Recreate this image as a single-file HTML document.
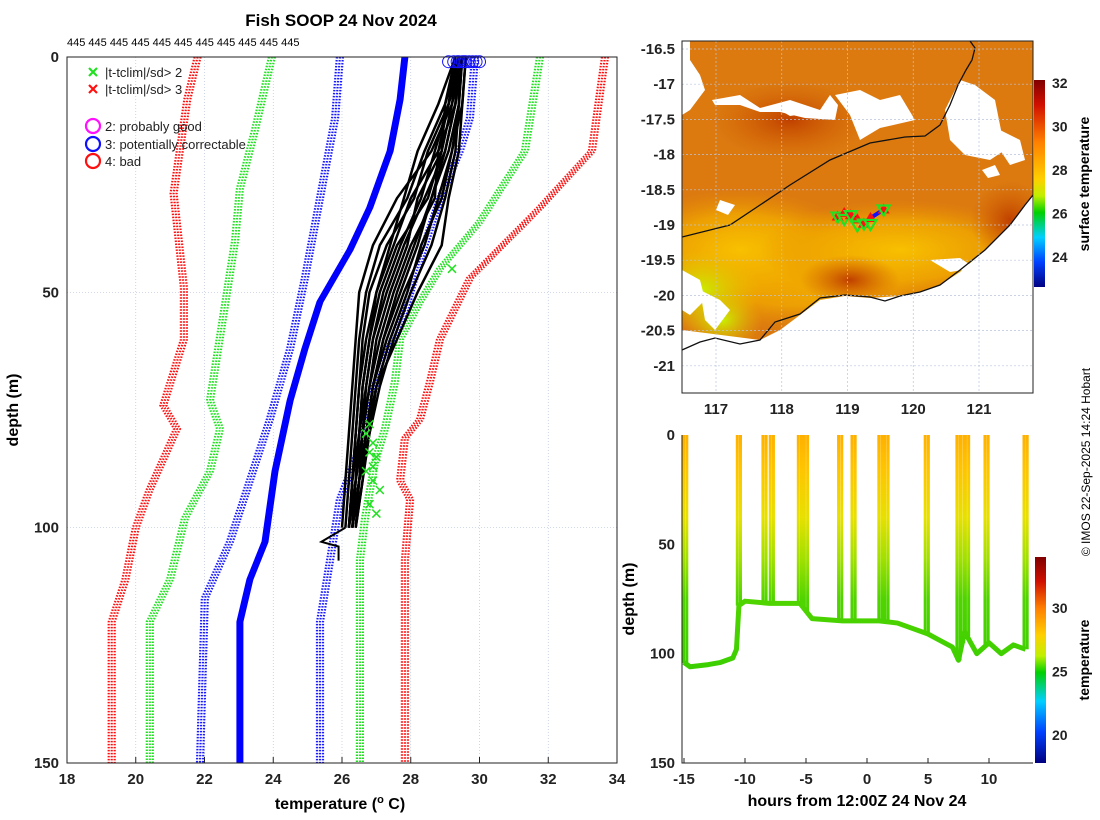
<!DOCTYPE html>
<html><head><meta charset="utf-8"><style>
body{margin:0;background:#fff}
svg{display:block;font-family:"Liberation Sans","DejaVu Sans",sans-serif}
</style></head><body>
<svg id="s" width="1100" height="820" viewBox="0 0 1100 820" xmlns="http://www.w3.org/2000/svg">
<defs>
<linearGradient id="cb1" x1="0" y1="0" x2="0" y2="1">
<stop offset="0" stop-color="#800000"/><stop offset="0.12" stop-color="#d01000"/><stop offset="0.3" stop-color="#ff8000"/><stop offset="0.48" stop-color="#ffd000"/><stop offset="0.56" stop-color="#c0f000"/><stop offset="0.64" stop-color="#00d000"/><stop offset="0.76" stop-color="#00d0ff"/><stop offset="0.88" stop-color="#0040ff"/><stop offset="1" stop-color="#000080"/></linearGradient>
<linearGradient id="cb2" x1="0" y1="0" x2="0" y2="1">
<stop offset="0" stop-color="#800000"/><stop offset="0.12" stop-color="#d01000"/><stop offset="0.25" stop-color="#ff8000"/><stop offset="0.38" stop-color="#ffd000"/><stop offset="0.48" stop-color="#c0f000"/><stop offset="0.56" stop-color="#00d000"/><stop offset="0.7" stop-color="#00d0ff"/><stop offset="0.85" stop-color="#0040ff"/><stop offset="1" stop-color="#000080"/></linearGradient>
<linearGradient id="dg" gradientUnits="userSpaceOnUse" x1="0" y1="435" x2="0" y2="763">
<stop offset="0" stop-color="#ffb000"/><stop offset="0.1" stop-color="#ffc400"/><stop offset="0.25" stop-color="#e8e000"/><stop offset="0.38" stop-color="#a0e000"/><stop offset="0.5" stop-color="#50d400"/><stop offset="1" stop-color="#20c800"/></linearGradient>
<radialGradient id="yel" cx="0.5" cy="0.5" r="0.5"><stop offset="0" stop-color="#f8c000"/><stop offset="0.6" stop-color="#f0a800" stop-opacity="0.8"/><stop offset="1" stop-color="#e89000" stop-opacity="0"/></radialGradient>
<radialGradient id="lime" cx="0.5" cy="0.5" r="0.5"><stop offset="0" stop-color="#c8f000"/><stop offset="1" stop-color="#e8c000" stop-opacity="0"/></radialGradient>
<radialGradient id="dark" cx="0.5" cy="0.5" r="0.5"><stop offset="0" stop-color="#c04000"/><stop offset="1" stop-color="#d06000" stop-opacity="0"/></radialGradient>
<clipPath id="mapclip"><rect x="682" y="41" width="351" height="352"/></clipPath>
</defs>
<g id="left"></g><g id="map"></g><g id="td"></g>
<text x="341" y="26" text-anchor="middle" font-size="17" font-weight="bold">Fish SOOP 24 Nov 2024</text>
<text x="67" y="46" font-size="11">445 445 445 445 445 445 445 445 445 445 445</text>
<text x="340" y="809" text-anchor="middle" font-size="16" font-weight="bold">temperature (<tspan font-size="11" dy="-6">o</tspan><tspan dy="6"> C)</tspan></text>
<text transform="translate(18,410) rotate(-90)" text-anchor="middle" font-size="16" font-weight="bold">depth (m)</text>
<text transform="translate(1090,462) rotate(-90)" text-anchor="middle" font-size="12">© IMOS 22-Sep-2025 14:24 Hobart</text>
<text x="857" y="806" text-anchor="middle" font-size="16" font-weight="bold">hours from 12:00Z 24 Nov 24</text>
<text transform="translate(634,599) rotate(-90)" text-anchor="middle" font-size="16" font-weight="bold">depth (m)</text>
<text transform="translate(1089,184) rotate(-90)" text-anchor="middle" font-size="14" font-weight="bold">surface temperature</text>
<text transform="translate(1089,660) rotate(-90)" text-anchor="middle" font-size="14" font-weight="bold">temperature</text>
</svg>
<script>
// ---- left profile chart data ----
const envDepths = {
 redL:[0,9,29,49,60,74,79,92,100,111,120,150],
 greenL:[0,15.5,28,39,73,79,88,98,111,120,150],
 blueL:[0,13,30,47,62,77,90,103,115,150],
 blueMean:[0,9,20,32,41,52,62,73,88,103,111,120,150],
 blueR:[0,13,20,30,43,54,64,73,83,94,107,120,150],
 greenR:[0,20,35,45,52,60,69,79,86,98,107,150],
 redR:[0,20,32,47,60,69,77,81,90,94,107,150]};
const redLeftT=[21.8,21.5,21.1,21.4,21.4,20.8,21.2,20.4,20.0,19.7,19.3,19.3];
const greenLeftT=[23.96,23.47,23.03,22.89,22.16,22.45,22.16,21.43,21.0,20.41,20.41];
const blueLeftT=[25.94,25.8,25.36,24.92,24.49,23.9,23.32,22.74,22.01,21.87];
const blueMeanT=[27.83,27.69,27.4,26.81,26.23,25.36,24.92,24.49,24.05,23.76,23.32,23.03,23.03];
const blueRightT=[29.87,29.72,29.43,28.85,28.27,27.83,27.25,26.81,26.52,25.94,25.65,25.36,25.36];
const greenRightT=[31.76,31.32,30.01,28.85,28.27,27.69,27.54,27.25,26.96,26.67,26.52,26.52];
const redRightT=[33.65,33.27,31.76,29.72,28.85,28.56,28.27,27.83,27.69,27.98,27.83,27.83];
const profDepths=[0,10,20,30,40,50,60,70,80,90,100];
const profiles=[
 [29.4,29.2,28.6,27.6,26.9,26.5,26.4,26.3,26.2,26.1,26.0],
 [29.5,29.3,29.0,28.4,27.8,27.3,26.9,26.7,26.6,26.4,26.2],
 [29.4,29.4,29.2,28.9,28.3,27.9,27.4,27.0,26.8,26.5,26.3],
 [29.3,28.8,28.2,27.8,27.4,27.0,26.7,26.5,26.4,26.3,26.2],
 [29.5,29.4,29.3,29.0,28.6,28.0,27.5,27.1,26.8,26.6,26.4],
 [29.4,29.0,28.9,28.5,27.6,27.1,26.8,26.6,26.5,26.4,26.3],
 [29.6,29.5,29.4,29.1,28.9,28.2,27.6,27.0,26.7,26.5,26.4],
 [29.3,29.1,28.5,28.1,27.3,26.8,26.6,26.5,26.4,26.3,26.2],
 [29.4,29.3,28.8,28.7,28.0,27.5,27.1,26.8,26.6,26.5,26.3],
 [29.5,29.2,28.9,28.2,27.9,27.4,27.0,26.8,26.6,26.4,26.3],
 [29.4,29.1,28.7,28.3,27.7,27.2,26.9,26.7,26.5,26.4,26.2],
 [29.5,29.4,29.1,28.6,28.1,27.6,27.2,26.9,26.7,26.5,26.3],
 [29.3,29.0,28.4,27.9,27.1,26.7,26.5,26.4,26.3,26.2,26.1],
 [29.6,29.5,29.2,28.8,28.4,27.8,27.3,26.9,26.7,26.6,26.4],
 [29.4,29.3,29.0,28.6,28.2,27.7,27.2,26.9,26.7,26.5,26.3],
 [29.5,29.1,28.8,28.0,27.5,27.0,26.8,26.6,26.5,26.3,26.2]];
const flagT=[26.8,26.9,27.0,26.7,26.9,27.1,26.8,26.7,26.9,27.0,26.8,29.2];
const flagD=[78,82,85,88,90,92,95,80,87,97,84,45];
const circT=[29.1,29.25,29.4,29.5,29.6,29.7,29.8,29.9,30.0,29.35,29.55];
const xTicks=[18,20,22,24,26,28,30,32,34];
const yTicks=[0,50,100,150];
// ---- map data ----
const lonTicks=[117,118,119,120,121];
const latTicks=[-16.5,-17,-17.5,-18,-18.5,-19,-19.5,-20,-20.5,-21];
const shipLon=[118.85,118.95,119.05,119.15,119.25,119.35,119.55];
const shipLat=[-18.88,-18.83,-18.86,-18.92,-18.98,-18.9,-18.78];
const sstTicks=[24,26,28,30,32];
// ---- time-depth data ----
const castHours=[-14.9,-10.5,-8.4,-7.8,-5.5,-5.0,-2.2,-1.1,1.1,1.6,4.9,7.5,7.8,8.2,9.8,13.0];
const bottomHours=[-15,-14.5,-13,-12,-11,-10.7,-10.5,-10,-8,-5.5,-4.5,-2,-1,1,2.5,3.5,5,6,7,7.5,8,9,10,11,12,13];
const bottomDepth=[104,106,105,104,102,98,78,76,77,77,84,85,85,85,86,88,91,94,97,103,90,100,95,100,96,98];
const hourTicks=[-15,-10,-5,0,5,10];
const tdDepthTicks=[0,50,100,150];
const tempTicks=[20,25,30];

const NS='http://www.w3.org/2000/svg';
function mk(p,tag,at){const e=document.createElementNS(NS,tag);for(const k in at)e.setAttribute(k,at[k]);p.appendChild(e);return e;}
const xT=t=>67+(t-18)*550/16, yD=d=>57+d*706/150;
const L=document.getElementById('left');
let r=mk(L,'rect',{x:67,y:57,width:550,height:706,fill:'#fff',stroke:'none'});

xTicks.forEach(t=>{
 let g=mk(L,'line',{x1:xT(t),x2:xT(t),y1:57,y2:763,stroke:'#b8c4dc','stroke-width':0.7,'stroke-dasharray':'1,2'});
 
 let tk=mk(L,'line',{x1:xT(t),x2:xT(t),y1:763,y2:757,stroke:'#222'});
 
 let tx=mk(L,'text',{x:xT(t),y:784,'text-anchor':'middle','font-size':15,'font-weight':'bold',fill:'#222'});tx.textContent=t;
 
});
yTicks.forEach(d=>{
 let g=mk(L,'line',{x1:67,x2:617,y1:yD(d),y2:yD(d),stroke:'#b8c4dc','stroke-width':0.7,'stroke-dasharray':'1,2'});
 
 let tx=mk(L,'text',{x:59,y:yD(d)+5,'text-anchor':'end','font-size':15,'font-weight':'bold',fill:'#222'});tx.textContent=d;
 
});
function pathOf(ts,ds,dx){return ts.map((t,i)=>(i?'L':'M')+(xT(t)+dx).toFixed(1)+','+yD(ds[i]).toFixed(1)).join('');}
const envs=[[redLeftT,envDepths.redL,'#ff1010','red-left-envelope'],[greenLeftT,envDepths.greenL,'#22e022','green-left-envelope'],[blueLeftT,envDepths.blueL,'#1a1aff','blue-left-envelope'],[blueRightT,envDepths.blueR,'#1a1aff','blue-right-envelope'],[greenRightT,envDepths.greenR,'#22e022','green-right-envelope'],[redRightT,envDepths.redR,'#ff1010','red-right-envelope']];
envs.forEach(([ts,ds,c,n])=>{[-3,0,3].forEach(dx=>{
 let p=mk(L,'path',{d:pathOf(ts,ds,dx),fill:'none',stroke:c,'stroke-width':2.2,'stroke-dasharray':'1.5,1.5'});
 });});
[-2,0,2].forEach(dx=>{let p=mk(L,'path',{d:pathOf(blueMeanT,envDepths.blueMean,dx),fill:'none',stroke:'#0000ff','stroke-width':3});
 });
profiles.forEach(pr=>{let p=mk(L,'path',{d:pathOf(pr,profDepths,0),fill:'none',stroke:'#000','stroke-width':2.5,'stroke-linejoin':'round'});
 });
let tail=mk(L,'path',{d:'M'+xT(26.1)+','+yD(100)+'L'+xT(25.4)+','+yD(103)+'L'+xT(25.9)+','+yD(104)+'L'+xT(25.9)+','+yD(107),fill:'none',stroke:'#000','stroke-width':2});

flagT.forEach((t,i)=>{let x=xT(t),y=yD(flagD[i]);
 let p=mk(L,'path',{d:`M${x-4},${y-4}L${x+4},${y+4}M${x-4},${y+4}L${x+4},${y-4}`,stroke:'#22e022','stroke-width':1.5});
 });
circT.forEach(t=>{let c=mk(L,'circle',{cx:xT(t),cy:yD(1),r:6,fill:'none',stroke:'#1010ff','stroke-width':1});
 });
let fr=mk(L,'rect',{x:67,y:57,width:550,height:706,fill:'none',stroke:'#222','stroke-width':1});

const leg=[['x','#22e022','|t-tclim|/sd> 2',73],['x','#ff1010','|t-tclim|/sd> 3',90],['o','#ff10ff','2: probably good',127],['o','#1010ff','3: potentially correctable',145],['o','#ff1010','4: bad',162]];
leg.forEach(([m,c,t,y])=>{
 if(m==='x'){let p=mk(L,'path',{d:`M89,${y-5}L97,${y+3}M89,${y+3}L97,${y-5}`,stroke:c,'stroke-width':2.2});}
 else{let p=mk(L,'circle',{cx:93,cy:y-1,r:7,fill:'none',stroke:c,'stroke-width':2.2});}
 let tx=mk(L,'text',{x:105,y:y+4,'font-size':13,fill:'#222'});tx.textContent=t;
 
});
// ---- map ----
const M=document.getElementById('map');
const lonX=l=>716+(l-117)*65.75, latY=a=>49+(-16.5-a)*70.4;
const G=mk(M,'g',{'clip-path':'url(#mapclip)'});
let bg=mk(G,'rect',{x:682,y:41,width:351,height:352,fill:'#dc7a10'});
[[800,270,160,60,'url(#yel)'],[740,250,120,60,'url(#yel)'],[900,250,140,50,'url(#yel)'],[700,290,60,40,'url(#lime)'],[722,320,40,30,'url(#lime)'],[850,280,50,25,'url(#dark)'],[1010,220,40,40,'url(#dark)'],[790,120,80,40,'url(#dark)']].forEach(([cx,cy,rx,ry,f])=>{
 let e=mk(G,'ellipse',{cx,cy,rx,ry,fill:f});});
const whites=['M682,41L690,41L690,60L700,75L705,90L690,110L682,115Z','M712,100L740,95L760,108L790,100L820,110L830,95L838,105L835,120L805,118L780,112L760,112L740,105L715,105Z','M780,110L800,106L815,112L790,116Z','M835,95L860,90L880,100L900,95L915,120L880,128L860,140L850,115Z','M960,80L975,85L995,100L1005,150L990,160L965,155L950,140L945,110Z','M1000,130L1020,140L1025,160L1010,165L1000,150Z','M682,270L700,280L705,300L690,315L682,310Z','M700,290L720,300L730,310L715,330L705,320Z','M682,330L760,340L780,330L820,300L845,296L870,298L900,296L920,292L940,285L960,272L985,250L1010,225L1025,205L1033,195L1033,393L682,393Z','M930,260L960,258L975,268L950,272Z','M982,170L995,165L1000,175L988,178Z','M720,200L735,205L728,215L716,210Z'];
whites.forEach(d=>{let p=mk(G,'path',{d,fill:'#fff'});});
let c1=mk(G,'path',{d:'M682,237L730,225L790,185L830,160L870,143L905,137L925,136L940,125L950,105L958,85L966,70L972,60L975,48L970,41',fill:'none',stroke:'#111','stroke-width':1.3});

let c2=mk(G,'path',{d:'M682,350L700,342L715,338L740,344L760,340L775,322L800,314L820,298L845,295L870,297L885,301L900,296L920,292L940,285L960,270L985,250L1010,225L1025,205L1033,195',fill:'none',stroke:'#111','stroke-width':1.3});

latTicks.forEach(a=>{
 let g=mk(M,'line',{x1:682,x2:1033,y1:latY(a),y2:latY(a),stroke:'#b8c4dc','stroke-width':0.7,'stroke-dasharray':'2,2'});
 let tx=mk(M,'text',{x:675,y:latY(a)+5,'text-anchor':'end','font-size':15,'font-weight':'bold',fill:'#222'});tx.textContent=a;});
lonTicks.forEach(l=>{
 let g=mk(M,'line',{x1:lonX(l),x2:lonX(l),y1:41,y2:393,stroke:'#b8c4dc','stroke-width':0.7,'stroke-dasharray':'2,2'});
 let tx=mk(M,'text',{x:lonX(l),y:414,'text-anchor':'middle','font-size':15,'font-weight':'bold',fill:'#222'});tx.textContent=l;});
let tr=mk(M,'polyline',{points:shipLon.map((l,i)=>lonX(l)+','+latY(shipLat[i])).join(' '),fill:'none',stroke:'#1010ff','stroke-width':4});

shipLon.forEach((l,i)=>{const x=lonX(l),y=latY(shipLat[i]);
 let a=mk(M,'path',{d:`M${x-6},${y+4}L${x+6},${y+4}L${x},${y-6}Z`,fill:'#ff1010'});
 let b=mk(M,'path',{d:`M${x-6},${y-4+(i%2)*6}L${x+6},${y-4+(i%2)*6}L${x},${y+6+(i%2)*6}Z`,fill:'none',stroke:'#22e022','stroke-width':2.2});});
let mf=mk(M,'rect',{x:682,y:41,width:351,height:352,fill:'none',stroke:'#222'});
let cb=mk(M,'rect',{x:1034,y:80,width:11,height:207,fill:'url(#cb1)'});
const sstY=t=>83+(32-t)*(257-83)/8;
sstTicks.forEach(t=>{let tx=mk(M,'text',{x:1052,y:sstY(t)+5,'font-size':14,'font-weight':'bold',fill:'#222'});tx.textContent=t;});
// ---- time-depth ----
const T=document.getElementById('td');
const hX=h=>867+h*(989-867)/10, dY=d=>435+d*328/150;
hourTicks.forEach(h=>{let tx=mk(T,'text',{x:hX(h),y:784,'text-anchor':'middle','font-size':15,'font-weight':'bold',fill:'#222'});tx.textContent=h;
 let tk=mk(T,'line',{x1:hX(h),x2:hX(h),y1:763,y2:758,stroke:'#222'});});
tdDepthTicks.forEach(d=>{let tx=mk(T,'text',{x:675,y:dY(d)+5,'text-anchor':'end','font-size':15,'font-weight':'bold',fill:'#222'});tx.textContent=d;});
function bottomAt(h){for(let i=1;i<bottomHours.length;i++)if(h<=bottomHours[i]){const f=(h-bottomHours[i-1])/(bottomHours[i]-bottomHours[i-1]);return bottomDepth[i-1]+f*(bottomDepth[i]-bottomDepth[i-1]);}return bottomDepth[bottomDepth.length-1];}
let bl=mk(T,'polyline',{points:bottomHours.map((h,i)=>hX(h)+','+dY(bottomDepth[i])).join(' '),fill:'none',stroke:'url(#dg)','stroke-width':5,'stroke-linejoin':'round'});

castHours.forEach(h=>{const b=bottomAt(h);
 [-1.6,1.6].forEach(o=>{
 let p=mk(T,'rect',{x:hX(h)+o-1.5,y:dY(0),width:3,height:dY(b)-dY(0),fill:'url(#dg)'});
 });});
let tf=mk(T,'rect',{x:682,y:435,width:351,height:328,fill:'none',stroke:'none'});
let ax1=mk(T,'path',{d:'M682,435L682,763L1033,763',fill:'none',stroke:'#222'});
let cb2=mk(T,'rect',{x:1035,y:557,width:11,height:206,fill:'url(#cb2)'});
const tcY=t=>608+(30-t)*(735-608)/10;
tempTicks.forEach(t=>{let tx=mk(T,'text',{x:1052,y:tcY(t)+5,'font-size':14,'font-weight':'bold',fill:'#222'});tx.textContent=t;});
</script>
</body></html>
